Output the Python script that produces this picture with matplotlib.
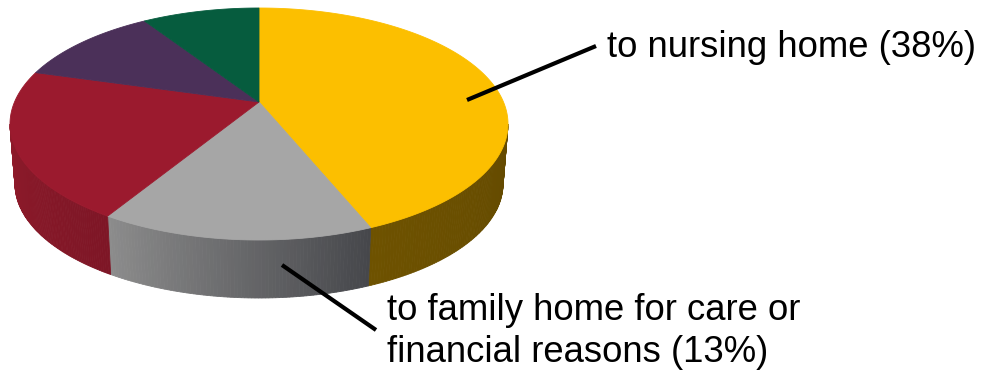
import numpy as np
import matplotlib.pyplot as plt
from matplotlib.patches import Polygon

# slice shares as drawn (clockwise from 12 o'clock)
categories = ["nursing home", "family home", "other a", "other b", "other c"]
shares = [42.6, 17.8, 21.9, 10.1, 7.6]
top_colors = ["#fcbf00", "#a6a6a6", "#9b1a2e", "#4b3059", "#065c3e"]
# side wall gradient (left colour, right colour)
wall_colors = [("#6e5200", "#644a00"), ("#8c8c8c", "#46474b"),
               ("#8e1a2a", "#7e1626"), ("#3a2446", "#3a2446"),
               ("#04482f", "#04482f")]
label_texts = {0: "to nursing home (38%)",
               1: "to family home for care or\nfinancial reasons (13%)"}

# geometry in pixel space
cx, cy, a, b = 259, 124, 249, 116
cx2, cy2, a2, b2 = 259, 184, 244, 114
apex = (259, 102)


def top_pt(t):
    return cx + a * np.cos(t), cy - b * np.sin(t)


def bot_pt(t):
    return cx2 + a2 * np.cos(t), cy2 - b2 * np.sin(t)


def mix(c1, c2, f):
    c1 = np.array(plt.matplotlib.colors.to_rgb(c1))
    c2 = np.array(plt.matplotlib.colors.to_rgb(c2))
    return tuple(c1 + (c2 - c1) * f)


fig = plt.figure(figsize=(9.83, 3.77), dpi=100)
ax = fig.add_axes([0, 0, 1, 1])
ax.set_xlim(0, 983)
ax.set_ylim(377, 0)
ax.axis("off")

angles = np.deg2rad(360 * np.array(shares) / np.sum(shares))
starts = np.deg2rad(90) - np.concatenate([[0], np.cumsum(angles)[:-1]])
ends = starts - angles

# side walls (front half only: angle between -180 and 0 deg)
for i in range(len(shares)):
    t0, t1 = starts[i], ends[i]
    for shift in (0, -2 * np.pi):
        s0 = min(t0 + shift, 0)
        s1 = max(t1 + shift, -np.pi)
        if s0 <= s1:
            continue
        ts = np.linspace(s0, s1, 80)
        for k in range(len(ts) - 1):
            f = k / (len(ts) - 2)
            col = mix(wall_colors[i][1], wall_colors[i][0], f)
            p1, p2 = top_pt(ts[k]), top_pt(ts[k + 1])
            q1, q2 = bot_pt(ts[k]), bot_pt(ts[k + 1])
            ax.add_patch(Polygon([p1, p2, q2, q1], closed=True,
                                 facecolor=col, edgecolor=col, lw=0.6))

# top face
for i in range(len(shares)):
    ts = np.linspace(starts[i], ends[i], 200)
    pts = [apex] + [top_pt(t) for t in ts]
    ax.add_patch(Polygon(pts, closed=True, facecolor=top_colors[i],
                         edgecolor=top_colors[i], lw=0.6))

# leader lines and labels
ax.plot([467, 596], [100, 46], color="black", lw=3, solid_capstyle="butt")
ax.plot([282, 376], [265, 330], color="black", lw=3, solid_capstyle="butt")
ax.text(607, 57, label_texts[0], fontsize=26.3, family="Liberation Sans",
        va="baseline", ha="left")
line1, line2 = label_texts[1].split("\n")
ax.text(387, 320, line1, fontsize=26.3, family="Liberation Sans",
        va="baseline", ha="left")
ax.text(387, 362, line2, fontsize=26.3, family="Liberation Sans",
        va="baseline", ha="left")

fig.savefig("out.png", dpi=100)
